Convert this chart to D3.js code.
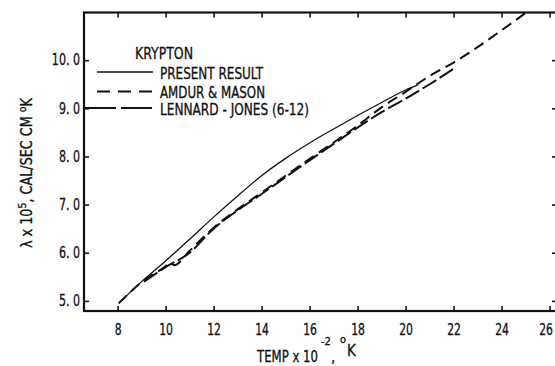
<!DOCTYPE html>
<html>
<head>
<meta charset="utf-8">
<script src="https://cdn.jsdelivr.net/npm/d3@7"></script>
<style>
  html, body { margin: 0; padding: 0; background: #fff; }
  svg { display: block; }
  text { font-family: "DejaVu Sans Condensed", "DejaVu Sans", sans-serif; fill: #111; stroke: #111; stroke-width: 0.3px; }
</style>
</head>
<body>
<svg id="chart" width="555" height="366"></svg>
<script>
// ---- data ----
const xTicks = [8, 10, 12, 14, 16, 18, 20, 22, 24, 26];
const xTickLabels = ["8", "10", "12", "14", "16", "18", "20", "22", "24", "26"];
const yTicks = [5, 6, 7, 8, 9, 10];
const yTickLabels = ["5. 0", "6. 0", "7. 0", "8. 0", "9. 0", "10. 0"];

const seriesNames = ["PRESENT RESULT", "AMDUR & MASON", "LENNARD - JONES (6-12)"];
const legendTitle = "KRYPTON";

const presentT = [8.05, 9, 10, 11, 12, 13, 14, 15, 16, 17, 18, 19, 20, 20.5];
const presentK = [4.95, 5.40, 5.83, 6.28, 6.74, 7.18, 7.60, 7.96, 8.28, 8.57, 8.85, 9.12, 9.38, 9.48];

const amdurT = [8.05, 9, 10, 10.2, 10.35, 11, 12, 13, 14, 15, 16, 17, 18, 19, 20, 21, 22, 23, 24, 25];
const amdurK = [4.95, 5.39, 5.72, 5.80, 5.74, 6.04, 6.52, 6.90, 7.25, 7.60, 7.95, 8.29, 8.64, 9.02, 9.34, 9.67, 9.95, 10.27, 10.62, 10.98];

const ljT = [9.1, 10, 11, 12, 13, 14, 15, 16, 17, 18, 19, 20, 21, 22];
const ljK = [5.40, 5.70, 6.00, 6.50, 6.88, 7.22, 7.57, 7.92, 8.26, 8.60, 8.92, 9.20, 9.50, 9.82];

// ---- layout ----
const svg = d3.select("#chart");
const mLeft = 84, mRight = 557, mTop = 12.5, mBottom = 311;
const x = d3.scaleLinear().domain([6.6, 26.31]).range([mLeft, mRight]);
const y = d3.scaleLinear().domain([4.79, 10.99]).range([mBottom, mTop]);
const FS = "15px";
const narrow = (sel, f) => sel.each(function () {
  const w = this.getComputedTextLength();
  d3.select(this).attr("textLength", w * f).attr("lengthAdjust", "spacingAndGlyphs");
});
const fitTo = (sel, w) => sel.attr("textLength", w).attr("lengthAdjust", "spacingAndGlyphs");

// frame
svg.append("rect")
  .attr("x", mLeft).attr("y", mTop)
  .attr("width", mRight - mLeft).attr("height", mBottom - mTop)
  .attr("fill", "none").attr("stroke", "#111").attr("stroke-width", 2.2);

// axes with inward ticks
const axB = svg.append("g").attr("transform", `translate(0,${mBottom})`)
  .call(d3.axisBottom(x).tickValues(xTicks).tickSize(-5).tickPadding(13)
    .tickFormat((d, i) => xTickLabels[i]));
const axT = svg.append("g").attr("transform", `translate(0,${mTop})`)
  .call(d3.axisTop(x).tickValues(xTicks).tickSize(-5).tickFormat(""));
const axL = svg.append("g").attr("transform", `translate(${mLeft},0)`)
  .call(d3.axisLeft(y).tickValues(yTicks).tickSize(-5).tickPadding(4)
    .tickFormat((d, i) => yTickLabels[i]));
const axR = svg.append("g").attr("transform", `translate(${mRight},0)`)
  .call(d3.axisRight(y).tickValues(yTicks).tickSize(-5).tickFormat(""));

[axB, axT, axL, axR].forEach(g => {
  g.select(".domain").remove();
  g.selectAll(".tick line").attr("stroke", "#111").attr("stroke-width", 1.6);
  g.selectAll(".tick text").attr("font-family", null).style("font-size", FS).attr("fill", "#111");
});
narrow(axB.selectAll(".tick text"), 0.8);
narrow(axL.selectAll(".tick text"), 0.82);
// keep the last bottom label inside the picture
axB.selectAll(".tick text").filter((d, i, n) => i === n.length - 1).attr("dx", -4);

// series
const line = d3.line().x(d => x(d[0])).y(d => y(d[1])).curve(d3.curveMonotoneX);
const zip = (a, b) => a.map((v, i) => [v, b[i]]);

const series = [
  { pts: zip(presentT, presentK), width: 1.3, dash: null },
  { pts: zip(amdurT, amdurK), width: 2, dash: "11,6" },
  { pts: zip(ljT, ljK), width: 2, dash: "16,4" }
];
series.forEach(s => {
  svg.append("path").attr("d", line(s.pts))
    .attr("fill", "none").attr("stroke", "#111")
    .attr("stroke-width", s.width)
    .attr("stroke-dasharray", s.dash);
});

// legend
fitTo(svg.append("text").attr("x", 135).attr("y", 59).style("font-size", FS).text(legendTitle), 58);
const legendItems = [
  { y: 72, x1: 97, dash: null, w: 1.6, tw: 103 },
  { y: 91.5, x1: 97, dash: "13,8", w: 2, tw: 105 },
  { y: 108, x1: 85, dash: "31,5", w: 2, tw: 149 }
];
legendItems.forEach((it, i) => {
  svg.append("line").attr("x1", it.x1).attr("x2", 153).attr("y1", it.y).attr("y2", it.y)
    .attr("stroke", "#111").attr("stroke-width", it.w).attr("stroke-dasharray", it.dash);
  fitTo(svg.append("text").attr("x", 160).attr("y", it.y + 6.5).style("font-size", FS).text(seriesNames[i]), it.tw);
});

// x axis label
fitTo(svg.append("text").attr("x", 257).attr("y", 362).style("font-size", FS).text("TEMP x 10"), 61);
svg.append("text").attr("x", 321).attr("y", 345).style("font-size", "11px").text("-2");
svg.append("text").attr("x", 331).attr("y", 362).style("font-size", FS).text(",");
svg.append("text").attr("x", 340).attr("y", 343).style("font-size", "11px").text("o");
svg.append("text").attr("x", 347).attr("y", 356).style("font-size", FS).text("K");

// y axis label
const yl = svg.append("text").attr("transform", "translate(32,248) rotate(-90)").style("font-size", FS);
yl.append("tspan").text("λ x 10");
yl.append("tspan").attr("dy", -6).style("font-size", "11px").text("5");
yl.append("tspan").attr("dy", 6).text(",  CAL/SEC CM ");
yl.append("tspan").attr("dy", -6).style("font-size", "11px").text("o");
yl.append("tspan").attr("dy", 6).text("K");
fitTo(yl, 150);
</script>
</body>
</html>
